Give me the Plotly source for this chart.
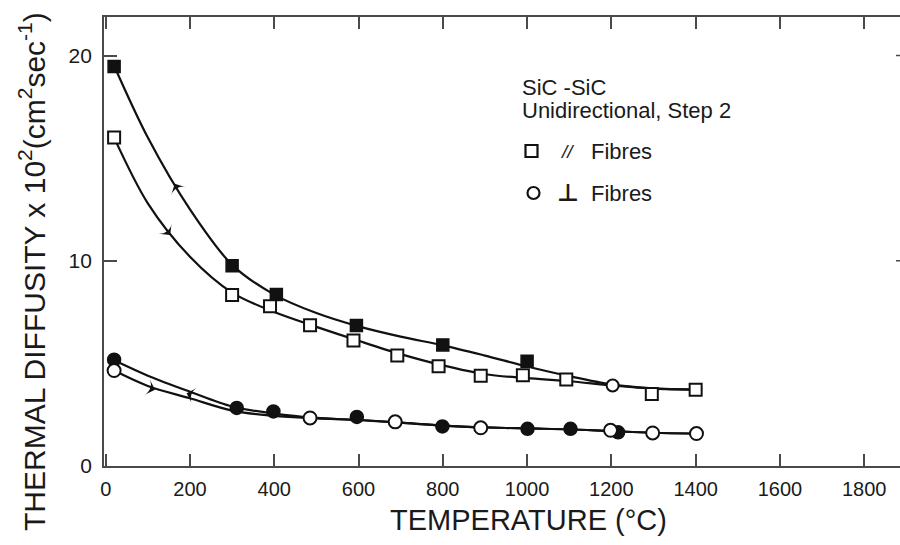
import plotly.graph_objects as go

# ---------------- data ----------------
# fitted curves, parallel fibres (squares): cooling (upper) and heating (lower)
par_cool_t = [20, 100, 200, 300, 400, 500, 600, 700, 800, 900, 1000, 1100, 1200, 1300, 1400]
par_cool_d = [19.5, 16.0, 12.5, 9.8, 8.35, 7.45, 6.8, 6.3, 5.88, 5.38, 4.85, 4.38, 3.98, 3.78, 3.73]
par_heat_t = [20, 100, 200, 300, 400, 500, 600, 700, 800, 900, 1000, 1100, 1200, 1300, 1400]
par_heat_d = [16.0, 12.8, 10.2, 8.45, 7.5, 6.78, 6.1, 5.45, 4.9, 4.47, 4.28, 4.13, 3.93, 3.77, 3.72]

# fitted curves, perpendicular fibres (circles)
perp_cool_t = [20, 100, 200, 300, 400, 500, 600, 700, 800, 900, 1000, 1100, 1200, 1300, 1400]
perp_cool_d = [5.15, 4.4, 3.62, 2.9, 2.55, 2.34, 2.24, 2.11, 1.97, 1.88, 1.83, 1.79, 1.7, 1.62, 1.58]
perp_heat_t = [20, 100, 200, 300, 400, 500, 600, 700, 800, 900, 1000, 1100, 1200, 1300, 1400]
perp_heat_d = [4.65, 3.9, 3.3, 2.7, 2.44, 2.32, 2.24, 2.11, 1.97, 1.88, 1.83, 1.79, 1.7, 1.62, 1.58]

# measured points
par_cool_pts_t = [20, 300, 405, 595, 800, 1000]
par_cool_pts_d = [19.47, 9.76, 8.35, 6.84, 5.9, 5.1]
par_heat_pts_t = [20, 300, 390, 485, 588, 692, 790, 890, 990, 1093, 1203, 1296, 1400]
par_heat_pts_d = [16.0, 8.33, 7.78, 6.86, 6.12, 5.38, 4.86, 4.4, 4.42, 4.21, 3.92, 3.51, 3.72]
par_heat_pts_sym = ["square"] * 10 + ["circle"] + ["square"] * 2

perp_cool_pts_t = [20, 311, 398, 596, 799, 1001, 1103, 1216]
perp_cool_pts_d = [5.18, 2.83, 2.66, 2.39, 1.93, 1.81, 1.81, 1.64]
perp_heat_pts_t = [20, 485, 687, 890, 1198, 1298, 1402]
perp_heat_pts_d = [4.65, 2.34, 2.15, 1.86, 1.74, 1.61, 1.58]

# direction arrows on the curves (temperature, diffusivity, heading in degrees)
arrow_t = [164, 153, 192, 117]
arrow_d = [13.75, 11.25, 3.55, 3.72]
arrow_angle = [-27, 142, -72, 108]

x_ticks = [0, 200, 400, 600, 800, 1000, 1200, 1400, 1600, 1800]
y_ticks = [0, 10, 20]

# ---------------- figure ----------------
W, H = 900, 545
ML, MR, MT, MB = 104, 0, 17, 79
PW, PH = W - ML - MR, H - MT - MB


def px(x):
    return (x - ML) / PW


def py(y):
    return (H - MB - y) / PH


AX = "#4a4a4a"
INK = "#111111"
TXT = "#1a1a1a"
SANS = "Liberation Sans, Arial, Helvetica, sans-serif"

fig = go.Figure()

for t, d in [(par_cool_t, par_cool_d), (par_heat_t, par_heat_d),
             (perp_cool_t, perp_cool_d), (perp_heat_t, perp_heat_d)]:
    fig.add_trace(go.Scatter(x=t, y=d, mode="lines",
                             line=dict(color=INK, width=2.2, shape="spline", smoothing=0.9),
                             hoverinfo="skip"))

fig.add_trace(go.Scatter(x=arrow_t, y=arrow_d, mode="markers",
                         marker=dict(symbol="arrow-wide", angle=arrow_angle, size=12, color=INK,
                                     line=dict(width=0))))

fig.add_trace(go.Scatter(x=par_cool_pts_t, y=par_cool_pts_d, mode="markers",
                         marker=dict(symbol="square", size=12, color=INK,
                                     line=dict(color=INK, width=1.5))))
fig.add_trace(go.Scatter(x=par_heat_pts_t, y=par_heat_pts_d, mode="markers",
                         marker=dict(symbol=par_heat_pts_sym, size=12, color="white",
                                     line=dict(color=INK, width=2))))
fig.add_trace(go.Scatter(x=perp_cool_pts_t, y=perp_cool_pts_d, mode="markers",
                         marker=dict(symbol="circle", size=13, color=INK,
                                     line=dict(color=INK, width=1.5))))
fig.add_trace(go.Scatter(x=perp_heat_pts_t, y=perp_heat_pts_d, mode="markers",
                         marker=dict(symbol="circle", size=13, color="white",
                                     line=dict(color=INK, width=2))))

x_lo = -4
x_hi = x_lo + (W - MR - ML) / 0.4214
y_hi = (H - MB - MT) / 20.525

fig.update_layout(
    width=W, height=H,
    margin=dict(l=ML, r=MR, t=MT, b=MB, pad=0),
    paper_bgcolor="white", plot_bgcolor="white",
    showlegend=False,
    xaxis=dict(range=[x_lo, x_hi], tickvals=x_ticks, ticktext=[str(v) for v in x_ticks],
               ticks="inside", ticklen=12, tickwidth=1.5, tickcolor=AX,
               showline=True, linecolor=AX, linewidth=1.8, mirror="ticks",
               showgrid=False, zeroline=False, ticklabelstandoff=4,
               tickfont=dict(family=SANS, size=20, color=TXT)),
    yaxis=dict(range=[0, y_hi], tickvals=y_ticks, ticktext=[str(v) for v in y_ticks],
               ticks="inside", ticklen=13, tickwidth=1.5, tickcolor=AX,
               showline=True, linecolor=AX, linewidth=1.8, mirror=False,
               showgrid=False, zeroline=False, ticklabelstandoff=6,
               tickfont=dict(family=SANS, size=21, color=TXT)),
)

# right-hand tick stubs at the figure edge
for v in [10, 20]:
    fig.add_shape(type="line", xref="paper", yref="y", x0=px(896), x1=1.0, y0=v, y1=v,
                  line=dict(color=AX, width=1.5))

# axis titles
fig.add_annotation(xref="paper", yref="paper", x=px(528), y=py(520),
                   text="TEMPERATURE (°C)", showarrow=False,
                   xanchor="center", yanchor="middle",
                   font=dict(family=SANS, size=29, color=TXT))
fig.add_annotation(xref="paper", yref="paper", x=px(32), y=py(272),
                   text="THERMAL DIFFUSITY x 10<sup>2</sup>(cm<sup>2</sup>sec<sup>-1</sup>)",
                   textangle=-90, showarrow=False,
                   xanchor="center", yanchor="middle",
                   font=dict(family=SANS, size=30, color=TXT))

# key
fig.add_annotation(xref="paper", yref="paper", x=px(520), y=py(87),
                   text="SiC -SiC", showarrow=False, xanchor="left", yanchor="middle",
                   font=dict(family=SANS, size=22, color=TXT))
fig.add_annotation(xref="paper", yref="paper", x=px(520), y=py(111),
                   text="Unidirectional, Step 2", showarrow=False, xanchor="left", yanchor="middle",
                   font=dict(family=SANS, size=22, color=TXT))
fig.add_shape(type="rect", xref="paper", yref="paper",
              x0=px(525.5), x1=px(537.5), y0=py(145), y1=py(157),
              line=dict(color=INK, width=2.2), fillcolor="white")
fig.add_shape(type="circle", xref="paper", yref="paper",
              x0=px(527.5), x1=px(539.5), y0=py(187), y1=py(199),
              line=dict(color=INK, width=2.2), fillcolor="white")
fig.add_annotation(xref="paper", yref="paper", x=px(567), y=py(151),
                   text="<i>//</i>", showarrow=False, xanchor="center", yanchor="middle",
                   font=dict(family=SANS, size=19, color=TXT))
fig.add_annotation(xref="paper", yref="paper", x=px(568), y=py(193),
                   text="<b>⊥</b>", showarrow=False, xanchor="center", yanchor="middle",
                   font=dict(family="DejaVu Sans, sans-serif", size=24, color=TXT))
for yy in [151, 193]:
    fig.add_annotation(xref="paper", yref="paper", x=px(589), y=py(yy),
                       text="Fibres", showarrow=False, xanchor="left", yanchor="middle",
                       font=dict(family=SANS, size=22, color=TXT))

fig.write_html("out.html")
